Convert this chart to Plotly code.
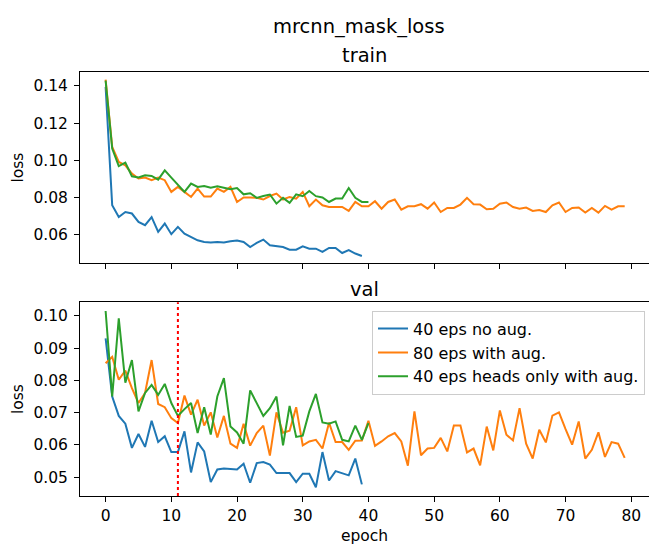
import plotly.graph_objects as go
from plotly.subplots import make_subplots

# ---------------- data ----------------
train_no_aug = [0.1395, 0.0759, 0.0696, 0.0723, 0.0715, 0.0670, 0.0652, 0.0696, 0.0616, 0.0661,
                0.0604, 0.0643, 0.0607, 0.0589, 0.0571, 0.0562, 0.0559, 0.0562, 0.0559, 0.0566,
                0.0570, 0.0562, 0.0535, 0.0557, 0.0575, 0.0544, 0.0541, 0.0535, 0.0521, 0.0521,
                0.0539, 0.0526, 0.0526, 0.0509, 0.0530, 0.0530, 0.0503, 0.0518, 0.0500, 0.0487]

train_aug80 = [0.1434, 0.1073, 0.0992, 0.0974, 0.0929, 0.0903, 0.0908, 0.0894, 0.0908, 0.0894,
               0.0831, 0.0858, 0.0831, 0.0804, 0.0849, 0.0806, 0.0806, 0.0849, 0.0831, 0.0858,
               0.0777, 0.0801, 0.0801, 0.0799, 0.0790, 0.0809, 0.0822, 0.0790, 0.0804, 0.0795,
               0.0831, 0.0754, 0.0790, 0.0759, 0.0750, 0.0750, 0.0750, 0.0729, 0.0777, 0.0754,
               0.0754, 0.0781, 0.0741, 0.0777, 0.0790, 0.0736, 0.0754, 0.0754, 0.0765, 0.0741,
               0.0774, 0.0723, 0.0745, 0.0745, 0.0763, 0.0799, 0.0765, 0.0763, 0.0738, 0.0741,
               0.0768, 0.0774, 0.0750, 0.0741, 0.0747, 0.0729, 0.0734, 0.0723, 0.0759, 0.0774,
               0.0723, 0.0745, 0.0747, 0.0720, 0.0745, 0.0720, 0.0756, 0.0736, 0.0754, 0.0754]

train_heads = [0.1429, 0.1064, 0.0970, 0.0988, 0.0915, 0.0908, 0.0920, 0.0917, 0.0897, 0.0947,
               0.0908, 0.0867, 0.0831, 0.0876, 0.0858, 0.0863, 0.0854, 0.0861, 0.0854, 0.0845,
               0.0852, 0.0818, 0.0824, 0.0799, 0.0809, 0.0817, 0.0768, 0.0799, 0.0772, 0.0818,
               0.0808, 0.0836, 0.0808, 0.0801, 0.0777, 0.0795, 0.0795, 0.0852, 0.0799, 0.0777,
               0.0777]

val_no_aug = [0.0930, 0.0750, 0.0690, 0.0666, 0.0591, 0.0634, 0.0594, 0.0675, 0.0609, 0.0627,
              0.0578, 0.0578, 0.0642, 0.0515, 0.0608, 0.0580, 0.0485, 0.0524, 0.0527, 0.0526,
              0.0524, 0.0542, 0.0483, 0.0544, 0.0547, 0.0539, 0.0513, 0.0513, 0.0513, 0.0485,
              0.0511, 0.0511, 0.0469, 0.0578, 0.0490, 0.0519, 0.0513, 0.0506, 0.0558, 0.0478]

val_aug80 = [0.0853, 0.0873, 0.0802, 0.0830, 0.0776, 0.0730, 0.0761, 0.0863, 0.0727, 0.0717,
             0.0683, 0.0668, 0.0753, 0.0694, 0.0740, 0.0660, 0.0701, 0.0623, 0.0690, 0.0604,
             0.0591, 0.0666, 0.0598, 0.0637, 0.0660, 0.0567, 0.0701, 0.0638, 0.0644, 0.0717,
             0.0599, 0.0611, 0.0616, 0.0589, 0.0669, 0.0609, 0.0609, 0.0585, 0.0613, 0.0614,
             0.0675, 0.0597, 0.0611, 0.0627, 0.0637, 0.0611, 0.0536, 0.0704, 0.0568, 0.0589,
             0.0591, 0.0622, 0.0580, 0.0660, 0.0660, 0.0577, 0.0589, 0.0537, 0.0657, 0.0583,
             0.0707, 0.0632, 0.0614, 0.0714, 0.0604, 0.0558, 0.0647, 0.0608, 0.0691, 0.0701,
             0.0649, 0.0601, 0.0673, 0.0558, 0.0585, 0.0639, 0.0563, 0.0609, 0.0604, 0.0560]

val_heads = [0.1015, 0.0750, 0.0992, 0.0793, 0.0863, 0.0704, 0.0761, 0.0786, 0.0755, 0.0789,
             0.0730, 0.0690, 0.0711, 0.0730, 0.0637, 0.0717, 0.0632, 0.0750, 0.0807, 0.0657,
             0.0639, 0.0604, 0.0769, 0.0731, 0.0690, 0.0714, 0.0750, 0.0599, 0.0721, 0.0625,
             0.0629, 0.0704, 0.0758, 0.0670, 0.0666, 0.0673, 0.0616, 0.0611, 0.0660, 0.0616,
             0.0668]

series_names = ["40 eps no aug.", "80 eps with aug.", "40 eps heads only with aug."]
colors = ["#1f77b4", "#ff7f0e", "#2ca02c"]
marker_epoch = 11
x_ticks = [0, 10, 20, 30, 40, 50, 60, 70, 80]
train_yticks = [0.06, 0.08, 0.10, 0.12, 0.14]
val_yticks = [0.05, 0.06, 0.07, 0.08, 0.09, 0.10]

# ---------------- figure ----------------
FONT = "DejaVu Sans"
TICK = 15.5
TITLE = 19.5
fig = make_subplots(rows=2, cols=1)

train_sets = [train_no_aug, train_aug80, train_heads]
val_sets = [val_no_aug, val_aug80, val_heads]

for name, col, ys in zip(series_names, colors, train_sets):
    fig.add_trace(go.Scatter(x=list(range(len(ys))), y=ys, mode="lines", name=name,
                             line=dict(color=col, width=2), showlegend=False,
                             hoverinfo="skip"), row=1, col=1)
for name, col, ys in zip(series_names, colors, val_sets):
    fig.add_trace(go.Scatter(x=list(range(len(ys))), y=ys, mode="lines", name=name,
                             line=dict(color=col, width=2), showlegend=True,
                             hoverinfo="skip"), row=2, col=1)

fig.add_shape(type="line", xref="x2", yref="y2 domain", x0=marker_epoch, x1=marker_epoch,
              y0=0, y1=1, line=dict(color="red", width=2, dash="dot"))

axis_common = dict(showline=True, linecolor="black", linewidth=1, mirror=True,
                   ticks="outside", ticklen=5, tickwidth=1, tickcolor="black",
                   showgrid=False, zeroline=False,
                   tickfont=dict(family=FONT, size=TICK, color="black"))

xr = [-3.9, 82.7]
fig.update_xaxes(range=xr, tickvals=x_ticks, **axis_common)
fig.update_xaxes(showticklabels=False, row=1, col=1)
fig.update_xaxes(title=dict(text="epoch", font=dict(family=FONT, size=TICK, color="black"),
                            standoff=6), row=2, col=1)

fig.update_yaxes(**axis_common)
fig.update_yaxes(ticklabelstandoff=3)
fig.update_yaxes(range=[0.0448, 0.1475], tickvals=train_yticks, tickformat=".2f",
                 title=dict(text="loss", font=dict(family=FONT, size=TICK, color="black"),
                            standoff=5), row=1, col=1)
fig.update_yaxes(range=[0.0442, 0.1042], tickvals=val_yticks, tickformat=".2f",
                 title=dict(text="loss", font=dict(family=FONT, size=TICK, color="black"),
                            standoff=5), row=2, col=1)

fig.update_layout(
    width=649, height=546,
    margin=dict(l=80, r=0, t=72, b=50),
    paper_bgcolor="white", plot_bgcolor="white",
    font=dict(family=FONT, color="black"),
    xaxis=dict(domain=[0, 1]), xaxis2=dict(domain=[0, 1]),
    yaxis=dict(domain=[0.549, 1.0]),
    yaxis2=dict(domain=[0.0, 0.457]),
    legend=dict(x=0.993, y=0.437, xanchor="right", yanchor="top",
                bgcolor="rgba(255,255,255,0.8)", bordercolor="#cccccc", borderwidth=1,
                font=dict(family=FONT, size=16, color="black")),
    annotations=[
        dict(text="mrcnn_mask_loss", xref="paper", yref="paper", x=0.49, y=1.108,
             showarrow=False, xanchor="center", yanchor="middle",
             font=dict(family=FONT, size=TITLE, color="black")),
        dict(text="train", xref="paper", yref="paper", x=0.5, y=1.039,
             showarrow=False, xanchor="center", yanchor="middle",
             font=dict(family=FONT, size=TITLE, color="black")),
        dict(text="val", xref="paper", yref="paper", x=0.5, y=0.486,
             showarrow=False, xanchor="center", yanchor="middle",
             font=dict(family=FONT, size=TITLE, color="black")),
    ],
)

fig.write_html("out.html")
